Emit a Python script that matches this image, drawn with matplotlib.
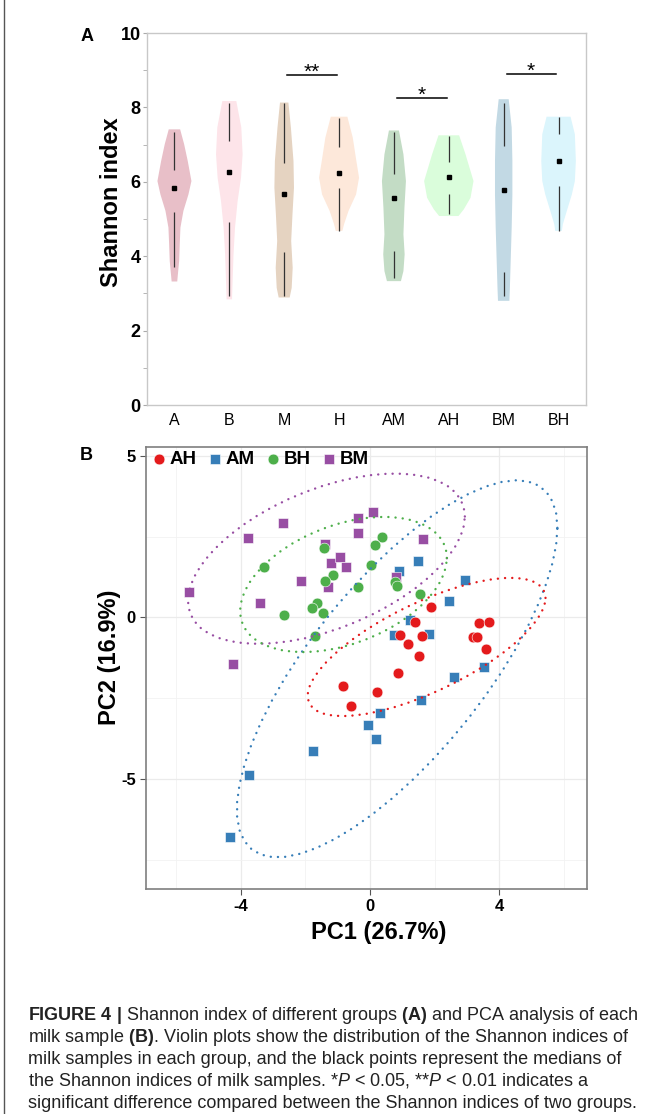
import numpy as np
import matplotlib.pyplot as plt
from matplotlib.lines import Line2D
from matplotlib import font_manager

plt.rcParams['font.family'] = ['Liberation Sans', 'DejaVu Sans']
plt.rcParams['axes.unicode_minus'] = False

# caption font: narrow face if it is there
font_names = {f.name for f in font_manager.fontManager.ttflist}
cap_font = 'Liberation Sans Narrow' if 'Liberation Sans Narrow' in font_names else 'Liberation Sans'
plt.rcParams['mathtext.fontset'] = 'custom'
plt.rcParams['mathtext.rm'] = cap_font
plt.rcParams['mathtext.bf'] = cap_font + ':bold'
plt.rcParams['mathtext.it'] = cap_font + ':italic'

# ---------------- panel A: Shannon index per group ----------------
groups = ['A', 'B', 'M', 'H', 'AM', 'AH', 'BM', 'BH']
violin_colors = ['#e8bfc8', '#fde4e9', '#e5d3c1', '#fde8da',
                 '#c3dcc5', '#dafddb', '#c2d9e4', '#dbf5fc']
medians = [5.83, 6.26, 5.68, 6.25, 5.56, 6.13, 5.77, 6.56]
q1 = [5.19, 4.92, 4.10, 5.82, 4.14, 5.66, 3.58, 5.89]
q3 = [6.31, 7.10, 6.50, 6.94, 6.20, 6.53, 6.96, 7.28]
whisker_lo = [3.71, 2.93, 2.93, 4.68, 3.42, 5.13, 2.93, 4.68]
whisker_hi = [7.35, 8.11, 8.13, 7.72, 7.35, 7.22, 8.13, 7.74]

# violin outlines: Shannon level and relative density
dens_levels = [
    [3.32, 3.47, 3.87, 4.32, 4.77, 5.22, 5.66, 6.02, 6.56, 7.01, 7.41],
    [2.84, 3.33, 4.05, 4.77, 5.48, 6.11, 6.74, 7.46, 8.17],
    [2.89, 3.15, 3.69, 4.41, 5.13, 5.84, 6.56, 7.46, 8.13],
    [4.68, 4.86, 5.22, 5.66, 6.11, 6.56, 7.19, 7.75],
    [3.33, 3.60, 4.05, 4.59, 5.30, 6.02, 6.74, 7.38],
    [5.08, 5.26, 5.57, 6.02, 6.74, 7.25],
    [2.80, 3.15, 3.87, 4.77, 5.66, 6.56, 7.46, 8.22],
    [4.68, 4.86, 5.22, 5.66, 6.02, 6.56, 7.28, 7.75],
]
dens_values = [
    [2.8, 3.3, 4.7, 5.3, 6.0, 9.0, 14.0, 17.0, 13.3, 9.7, 5.7],
    [2.7, 3.3, 4.2, 5.7, 8.3, 11.7, 13.3, 12.0, 7.0],
    [5.5, 7.5, 8.5, 7.0, 8.3, 9.8, 9.3, 6.7, 4.2],
    [3.3, 5.0, 9.5, 17.0, 20.0, 17.3, 13.7, 8.3],
    [7.0, 9.5, 10.7, 9.5, 10.5, 12.0, 9.5, 5.0],
    [9.7, 15.0, 21.7, 24.7, 16.7, 10.3],
    [5.7, 6.2, 7.0, 8.0, 8.7, 8.7, 8.0, 5.0],
    [3.3, 4.3, 8.3, 13.3, 16.3, 17.3, 16.3, 12.0],
]
# significance brackets: (left group, right group, label, height)
sig_pairs = [(3, 4, '**', 8.88), (5, 6, '*', 8.26), (7, 8, '*', 8.89)]

# ---------------- panel B: PCA scores ----------------
ah_pc1 = [1.89, 1.39, 0.94, 1.60, 1.17, 1.50, 3.37, 3.67, 3.17, 3.32, 3.57, -0.83, -0.59, 0.86, 0.21]
ah_pc2 = [0.31, -0.15, -0.55, -0.58, -0.81, -1.19, -0.18, -0.15, -0.60, -0.62, -0.97, -2.12, -2.74, -1.71, -2.30]
am_pc1 = [1.47, 0.88, 2.94, 2.43, 1.22, 1.82, 0.75, 3.52, 2.60, 1.56, 0.31, -0.07, 0.19, -1.75, -3.76, -4.33]
am_pc2 = [1.73, 1.44, 1.17, 0.50, -0.08, -0.50, -0.55, -1.53, -1.84, -2.56, -2.95, -3.32, -3.76, -4.13, -4.86, -6.80]
bh_pc1 = [-3.27, -2.66, -1.44, -1.15, -1.38, -1.64, -1.79, -1.46, -1.70, -0.36, 0.36, 0.15, 0.03, 0.77, 0.82, 1.55]
bh_pc2 = [1.55, 0.08, 2.15, 1.31, 1.12, 0.46, 0.28, 0.14, -0.57, 0.95, 2.49, 2.24, 1.61, 1.10, 0.97, 0.71]
bm_pc1 = [-5.59, -3.79, -2.70, -3.40, -2.13, -1.38, -1.21, -0.93, -0.75, -1.29, -0.36, -0.36, -4.24, 0.10, 1.63, 0.79]
bm_pc2 = [0.79, 2.47, 2.91, 0.43, 1.11, 2.27, 1.67, 1.87, 1.55, 0.95, 3.07, 2.60, -1.44, 3.27, 2.42, 1.26]

caption_lines = [
    r"$\mathbf{FIGURE\ 4\ |}$ Shannon index of different groups $\mathbf{(A)}$ and PCA analysis of each",
    r"milk sample $\mathbf{(B)}$. Violin plots show the distribution of the Shannon indices of",
    "milk samples in each group, and the black points represent the medians of",
    r"the Shannon indices of milk samples. *$\mathit{P}$ < 0.05, **$\mathit{P}$ < 0.01 indicates a",
    "significant difference compared between the Shannon indices of two groups.",
]

W, H = 657, 1114
fig = plt.figure(figsize=(W / 100, H / 100), dpi=100)


def box(l, t, r, b):
    return [l / W, 1 - b / H, (r - l) / W, (b - t) / H]


# ---- violin panel
ax = fig.add_axes(box(147, 33, 586, 405))
pos = np.arange(1, len(groups) + 1)
vmax = max(max(v) for v in dens_values)
stats = []
for lv, dv, md in zip(dens_levels, dens_values, medians):
    stats.append({'coords': np.array(lv), 'vals': np.array(dv), 'mean': md,
                  'median': md, 'min': lv[0], 'max': lv[-1]})
widths = [0.9 * max(v) / vmax for v in dens_values]
parts = ax.violin(stats, positions=pos, widths=widths, showmeans=False,
                  showextrema=False, showmedians=False)
for body, c in zip(parts['bodies'], violin_colors):
    body.set_facecolor(c)
    body.set_edgecolor('none')
    body.set_alpha(1)
ax.vlines(pos, whisker_lo, q1, color='#333333', lw=0.9)
ax.vlines(pos, q3, whisker_hi, color='#333333', lw=0.9)
ax.plot(pos, medians, 's', color='black', ms=2.6, ls='none')
for a, b, lab, hgt in sig_pairs:
    ax.plot([a + 0.06, b - 0.04], [hgt, hgt], color='black', lw=1.1)
    ax.text((a + b) / 2, hgt - 0.08, lab, ha='center', va='baseline', fontsize=15)

ax.set_xlim(0.5, 8.5)
ax.set_ylim(0, 10)
ax.set_xticks(pos)
ax.set_xticklabels(groups, fontsize=11.5)
ax.set_yticks([0, 2, 4, 6, 8, 10])
ax.set_yticks([1, 3, 5, 7, 9], minor=True)
ax.tick_params(axis='y', which='both', length=3, color='#aaaaaa', pad=1.5,
               labelsize=13)
ax.tick_params(axis='x', length=0, pad=6)
for lab in ax.get_yticklabels():
    lab.set_fontweight('bold')
for s in ax.spines.values():
    s.set_color('#c8c8c8')
    s.set_linewidth(1)
ax.set_ylabel('Shannon index', fontsize=17, fontweight='bold', va='center')
ax.yaxis.set_label_coords(-0.080, 0.546)

# ---- PCA panel
ax2 = fig.add_axes(box(145.7, 447.3, 586.7, 889.3))
ax2.set_xlim(-6.94, 6.70)
ax2.set_ylim(-8.41, 5.26)
ax2.set_xticks([-4, 0, 4])
ax2.set_xticks([-6, -2, 2, 6], minor=True)
ax2.set_yticks([-5, 0, 5])
ax2.set_yticks([-7.5, -2.5, 2.5], minor=True)
ax2.grid(which='major', color='#ebebeb', lw=0.9)
ax2.grid(which='minor', color='#f2f2f2', lw=0.6)
ax2.set_axisbelow(True)
ax2.tick_params(which='major', length=4, color='#555555', pad=3, labelsize=12)
ax2.tick_params(which='minor', length=0)
for lab in ax2.get_xticklabels() + ax2.get_yticklabels():
    lab.set_fontweight('bold')
for s in ax2.spines.values():
    s.set_color('#7f7f7f')
    s.set_linewidth(1.2)


def ellipse(x, y, level=0.95, nu=5, segments=51):
    # robust t covariance (cov.trob) as in ggplot2::stat_ellipse
    X = np.column_stack([x, y])
    n, p = X.shape
    loc = X.mean(axis=0)
    w = np.ones(n)
    for _ in range(100):
        w0 = w
        d = X - loc
        S = (d * (w / w.sum())[:, None]).T @ d
        Q = np.einsum('ij,jk,ik->i', d, np.linalg.inv(S), d)
        w = (nu + p) / (nu + Q)
        loc = (w[:, None] * X).sum(axis=0) / w.sum()
        if np.all(np.abs(w - w0) < 0.01):
            break
    d = X - loc
    cov = (d * w[:, None]).T @ d / n
    chol = np.linalg.cholesky(cov).T
    dfd = n - 1
    radius = np.sqrt(dfd * ((1 - level) ** (-2 / dfd) - 1))
    ang = np.linspace(0, 2 * np.pi, segments + 1)
    circ = np.column_stack([np.cos(ang), np.sin(ang)])
    pts = loc + radius * circ @ chol
    return pts[:, 0], pts[:, 1]


series = [
    ('AM', am_pc1, am_pc2, '#377eb8', 's', 48),
    ('BM', bm_pc1, bm_pc2, '#984ea3', 's', 48),
    ('BH', bh_pc1, bh_pc2, '#4daf4a', 'o', 60),
    ('AH', ah_pc1, ah_pc2, '#e41a1c', 'o', 60),
]
handles = {}
for name, xs, ys, col, mk, sz in series:
    handles[name] = ax2.scatter(xs, ys, s=sz, marker=mk, color=col,
                                edgecolors='white', linewidths=0.4, zorder=3)
for name, xs, ys, col, mk, sz in series:
    ex, ey = ellipse(xs, ys)
    ax2.plot(ex, ey, color=col, lw=1.7, ls=(0, (0.05, 3.0)),
             dash_capstyle='round', zorder=4)

order = ['AH', 'AM', 'BH', 'BM']
ax2.legend([handles[k] for k in order], order, loc='upper left',
           bbox_to_anchor=(0.0, 1.0), ncol=4, frameon=False,
           prop={'weight': 'bold', 'size': 13.5}, handletextpad=0.05,
           columnspacing=0.5, handlelength=1.0, borderaxespad=0.1,
           borderpad=0.1, scatterpoints=1)

ax2.set_xlabel('PC1 (26.7%)', fontsize=17, fontweight='bold', va='center')
ax2.xaxis.set_label_coords(0.529, -0.097)
ax2.set_ylabel('PC2 (16.9%)', fontsize=17, fontweight='bold', va='center')
ax2.yaxis.set_label_coords(-0.081, 0.525)

fig.text(86.7 / W, 1 - 36.7 / H, 'A', fontsize=13, fontweight='bold',
         ha='center', va='center')
fig.text(86.7 / W, 1 - 455 / H, 'B', fontsize=13, fontweight='bold',
         ha='center', va='center')

# ---- caption
texts = []
for i, line in enumerate(caption_lines):
    texts.append(fig.text(28 / W, 1 - (1016 + 22 * i) / H, line, fontsize=11,
                          family=cap_font, color='#222222', ha='left', va='center'))
r = fig.canvas.get_renderer()
wpx = texts[0].get_window_extent(r).width
for t in texts:
    t.set_fontsize(11 * 610 / wpx)

fig.add_artist(Line2D([4 / W, 4 / W], [0, 1], transform=fig.transFigure,
                      color='#555555', lw=1))

fig.savefig('out.png', dpi=100)
